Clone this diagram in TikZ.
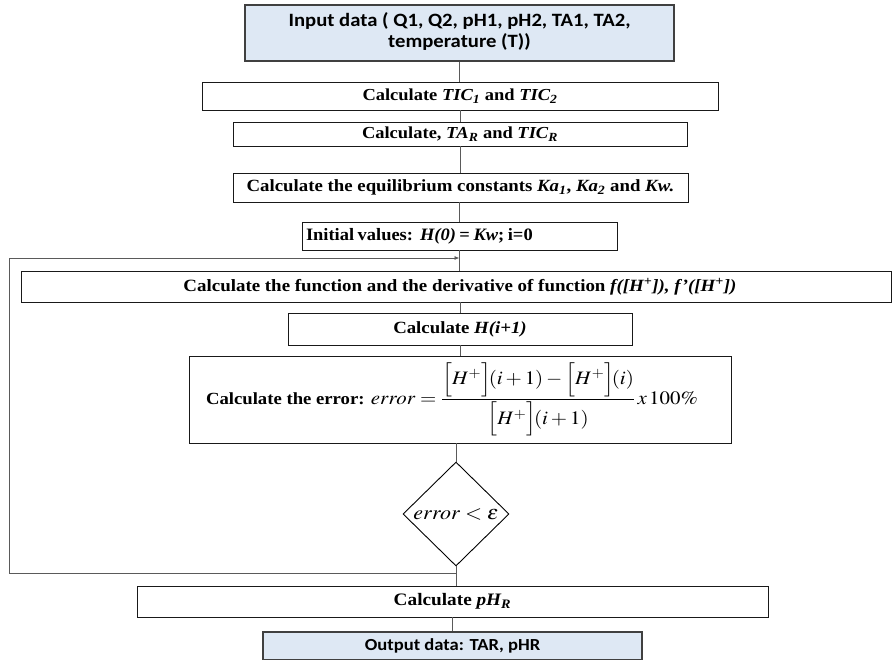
\documentclass[tikz,border=0pt]{standalone}
\usepackage{amsmath}
\usepackage{mathptmx}
\usepackage{graphicx}
\usepackage{fontspec}
\setmainfont{Liberation Serif}
\newfontfamily\calib{Carlito}
\usetikzlibrary{arrows.meta,shapes.geometric,calc}
\definecolor{iobg}{HTML}{DEE8F4}
\definecolor{ioedge}{HTML}{404040}
\definecolor{wire}{HTML}{5A5A5A}
% labels are set slightly wide
\newcommand{\widen}[2][1.1]{\scalebox{#1}[1]{#2}}
\newcommand{\fsz}[1]{\fontsize{#1}{#1}\selectfont}
\tikzset{
  x=1pt, y=-1pt,
  procbox/.style={draw=black!90, line width=0.9pt, inner sep=0pt, align=center,
    font=\bfseries},
  iobox/.style={draw=ioedge, line width=1.4pt, fill=iobg, inner sep=0pt, align=center,
    font=\calib\bfseries},
  decide/.style={diamond, draw=black, line width=0.9pt, inner sep=0pt, aspect=1},
  wireline/.style={draw=wire, line width=0.8pt},
  looparrow/.style={wireline, -{Latex[length=5pt,width=4pt]}}
}
\begin{document}
\begin{tikzpicture}
\useasboundingbox (0,0) rectangle (892,660);

\node[iobox, minimum width=429pt, minimum height=56pt] (inp) at (459.5,33)
  {\widen{\fsz{18.8}\begin{tabular}{@{}c@{}}Input data ( Q1, Q2, pH1, pH2, TA1, TA2,\\[1pt] temperature (T))\end{tabular}}};
\node[procbox, minimum width=516pt, minimum height=28pt] (tic) at (460,96)
  {\widen{\fsz{16.8}Calculate \textit{TIC\textsubscript{1}} and \textit{TIC\textsubscript{2}}}};
\node[procbox, minimum width=454pt, minimum height=24pt] (tar) at (460,134)
  {\widen{\fsz{16.8}Calculate, \textit{TA\textsubscript{R}} and \textit{TIC\textsubscript{R}}}};
\node[procbox, minimum width=455pt, minimum height=29pt] (eqc) at (460.5,187.5)
  {\widen{\fsz{17.1}Calculate the equilibrium constants \textit{Ka\textsubscript{1}}, \textit{Ka\textsubscript{2}} and \textit{Kw.}}};
\node[procbox, text width=307pt, inner xsep=4pt, align=left, minimum height=28pt] (ini) at (459.5,236)
  {\widen[1.06]{\fsz{17.4}Initial values:\ \ \textit{H(0)} = \textit{Kw}; i=0}};
\node[procbox, minimum width=870pt, minimum height=31pt] (fun) at (456,286.5)
  {\hspace*{8pt}\widen{\fsz{17.2}Calculate the function and the derivative of function \textit{f([H\textsuperscript{+}]), f’([H\textsuperscript{+}])}}};
\node[procbox, minimum width=344pt, minimum height=32pt] (hnx) at (460,329)
  {\widen{\fsz{17.1}Calculate \textit{H(i+1)}}};
\node[procbox, minimum width=542pt, minimum height=87pt] (err) at (460,399.5)
  {\widen{\fsz{17}Calculate the error: {\mdseries\fsz{19}%
   $error=\dfrac{\Bigl[H^{+}\Bigr]\mkern-2mu(i+1)-\Bigl[H^{+}\Bigr]\mkern-2mu(i)}{\Bigl[H^{+}\Bigr]\mkern-2mu(i+1)}\,x\,100\%$}}\hspace*{16pt}};
\node[decide, minimum width=106pt, minimum height=104pt] (dec) at (456,514)
  {\widen{\fsz{20}$error<\varepsilon$}};
\node[procbox, minimum width=631pt, minimum height=31pt] (phr) at (452.5,601.5)
  {\widen{\fsz{17.5}Calculate \textit{pH\textsubscript{R}}}};
\node[iobox, minimum width=379pt, minimum height=28pt] (out) at (452.5,646)
  {\widen{\fsz{16.9}Output data: TAR, pHR}};

% straight connectors down the main column
\draw[wireline] (inp.south) -- (inp.south |- tic.north);
\draw[wireline] (tar.north |- tic.south) -- (tar.north);
\draw[wireline] (tar.south) -- (tar.south |- eqc.north);
\draw[wireline] (ini.north |- eqc.south) -- (ini.north);
\draw[wireline] (ini.south) -- (ini.south |- fun.north);
\draw[wireline] (hnx.north |- fun.south) -- (hnx.north);
\draw[wireline] (hnx.south) -- (hnx.south |- err.north);
\draw[wireline] (dec.north |- err.south) -- (dec.north);
\draw[wireline] (dec.south) -- (dec.south |- phr.north);
\draw[wireline] (out.north |- phr.south) -- (out.north);

% iteration loop back to the function evaluation
\coordinate (lpB) at (9,573);
\coordinate (lpT) at (9,258);
\draw[looparrow] (dec.south |- lpB) -- (lpB) -- (lpT) -- (ini.south |- lpT);
\end{tikzpicture}
\end{document}
